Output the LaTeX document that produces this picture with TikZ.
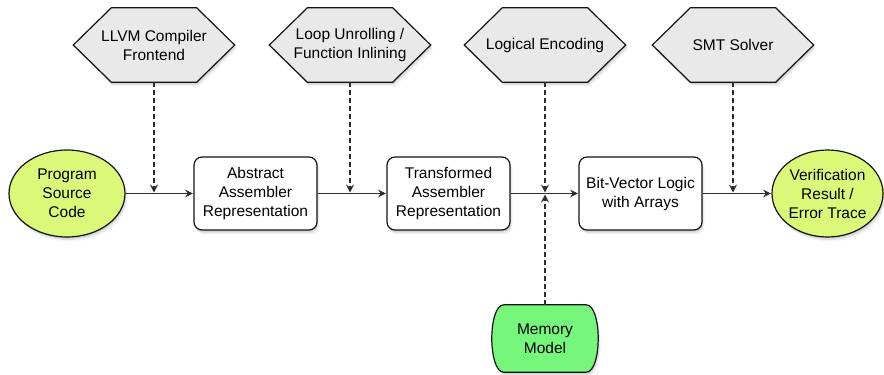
\documentclass[tikz,border=0pt]{standalone}
\usepackage{fontspec}
\setmainfont{Liberation Sans}
\usetikzlibrary{arrows.meta,shadows,backgrounds,shapes.geometric}

\definecolor{termfill}{RGB}{220,248,120}
\definecolor{memfill}{RGB}{118,246,122}
\definecolor{toolfill}{RGB}{233,233,233}
\definecolor{inkline}{RGB}{20,20,20}
\definecolor{wireline}{RGB}{45,45,45}

% hexagonal frame around a tool node
\newcommand\hexframe[1]{%
  \draw[toolframe] (#1.west) -- ([xshift=38pt]#1.north west)
    -- ([xshift=-38pt]#1.north east) -- (#1.east)
    -- ([xshift=-38pt]#1.south east) -- ([xshift=38pt]#1.south west) -- cycle;}

\begin{document}
\begin{tikzpicture}[x=1pt,y=1pt,
  font=\fontsize{15.5}{19}\selectfont,
  softshadow/.style={
    drop shadow={shadow xshift=0.5pt,shadow yshift=-1.5pt,opacity=0.22},
    drop shadow={shadow xshift=1.5pt,shadow yshift=-3pt,opacity=0.16},
    drop shadow={shadow xshift=2.5pt,shadow yshift=-4.5pt,opacity=0.08}},
  term/.style={ellipse,draw=inkline,line width=1.2pt,fill=termfill,
    minimum width=116,minimum height=87,inner sep=0pt,align=center,softshadow},
  procbox/.style={rectangle,rounded corners=8pt,draw=inkline,line width=1.2pt,
    fill=white,minimum width=123,minimum height=73,inner sep=0pt,align=center,softshadow},
  tool/.style={minimum width=161,minimum height=74,inner sep=0pt,align=center},
  toolframe/.style={draw=inkline,line width=1.2pt,fill=toolfill,softshadow},
  memnode/.style={minimum width=106,minimum height=67,inner sep=0pt,align=center},
  memframe/.style={draw=inkline,line width=1.2pt,fill=memfill,softshadow},
  flow/.style={draw=wireline,line width=1.1pt,-{Stealth[length=8pt,width=8pt,inset=3pt]},shorten >=0.5pt},
  dep/.style={flow,dash pattern=on 5pt off 3pt,shorten >=1pt},
]
\useasboundingbox (0,0) rectangle (884,-375);

% main pipeline
\node[term] (src) at (67,-193.5) {Program\\Source\\Code};
\node[procbox] (aar) at (255.5,-193.5) {Abstract\\Assembler\\Representation};
\node[procbox] (tar) at (448.5,-193.5) {Transformed\\Assembler\\Representation};
\node[procbox] (bvl) at (640.5,-193.5) {Bit-Vector Logic\\with Arrays};
\node[term,minimum width=111] (res) at (827.5,-193.5) {Verification\\Result /\\Error Trace};

% tools above the pipeline
\node[tool] (llvm) at (154,-45) {LLVM Compiler\\Frontend};
\node[tool] (loop) at (350,-45) {Loop Unrolling /\\Function Inlining};
\node[tool] (enc)  at (545,-45) {Logical Encoding};
\node[tool] (smt)  at (733,-45) {SMT Solver};

% memory model below
\node[memnode] (mem) at (545,-338.5) {Memory\\Model};

\begin{scope}[on background layer]
  \hexframe{llvm}
  \hexframe{loop}
  \hexframe{enc}
  \hexframe{smt}
  \draw[memframe] ([xshift=12pt]mem.north west) -- ([xshift=-12pt]mem.north east)
    .. controls ([xshift=4pt]mem.north east) and ([xshift=4pt]mem.south east) .. ([xshift=-12pt]mem.south east)
    -- ([xshift=12pt]mem.south west)
    .. controls ([xshift=-4pt]mem.south west) and ([xshift=-4pt]mem.north west) .. cycle;
\end{scope}

% junction points on the main flow
\coordinate (j1) at (llvm |- src);
\coordinate (j2) at (loop |- src);
\coordinate (j3) at (enc |- src);
\coordinate (j4) at (smt |- src);

\draw[flow] (src.east) -- (aar.west);
\draw[flow] (aar.east) -- (tar.west);
\draw[flow] (tar.east) -- (bvl.west);
\draw[flow] (bvl.east) -- (res.west);

\draw[dep] (llvm.south) -- (j1);
\draw[dep] (loop.south) -- (j2);
\draw[dep] (enc.south) -- (j3);
\draw[dep] (smt.south) -- (j4);
\draw[dep] (mem.north) -- (j3);
\end{tikzpicture}
\end{document}
